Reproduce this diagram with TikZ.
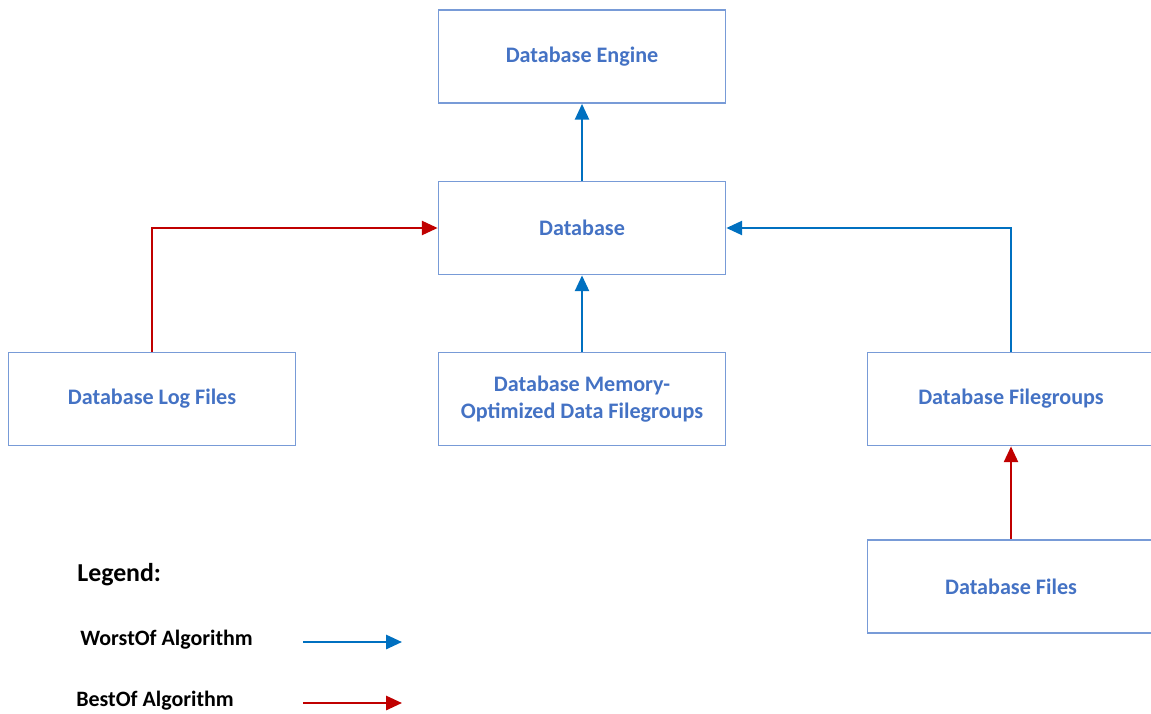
\documentclass[tikz,border=0pt]{standalone}
\usepackage{fontspec}
\setmainfont{Carlito}
\usetikzlibrary{arrows.meta, positioning}
\definecolor{boxline}{RGB}{120,155,215}
\definecolor{boxtext}{RGB}{68,114,196}
\definecolor{worstblue}{RGB}{0,112,192}
\definecolor{bestred}{RGB}{192,0,0}

\begin{document}
\begin{tikzpicture}[x=0.02cm, y=-0.02cm,
    dbbox/.style={draw=boxline, line width=1pt, minimum width=5.74cm, minimum height=1.86cm,
                  align=center, text=boxtext, font=\bfseries\fontsize{12.6}{15}\selectfont},
    worst/.style={draw=worstblue, line width=1.3pt, -{Triangle[length=9pt, width=8pt]}},
    best/.style={draw=bestred, line width=1.3pt, -{Triangle[length=9pt, width=8pt]}},
    legendtext/.style={anchor=west, inner sep=0pt, font=\bfseries\fontsize{12.5}{15}\selectfont}]
    % Page
    \useasboundingbox (0,0) rectangle (1151,713);

    % Boxes
    \node[dbbox] (engine) at (582, 56.5) {Database Engine};
    \node[dbbox] (db) at (582, 228) {Database};
    \node[dbbox] (logfiles) at (152, 399) {Database Log Files};
    \node[dbbox] (memory) at (582, 399) {Database Memory-\\Optimized Data Filegroups};
    \node[dbbox] (filegroups) at (1011, 399) {Database Filegroups};
    \node[dbbox] (files) at (1011, 586.5) {Database Files};

    % Connectors
    \draw[worst] (db) -- (engine);
    \draw[worst] (memory) -- (db);
    \draw[best] (logfiles.north) |- (db.west);
    \draw[worst] (filegroups.north) |- (db.east);
    \draw[best] (files) -- (filegroups);

    % Legend
    \node[legendtext, font=\bfseries\fontsize{14.7}{17}\selectfont] (legend) at (77, 575) {Legend:};
    \node[legendtext] (worsttext) at (80, 640) {WorstOf Algorithm};
    \node[legendtext] (besttext) at (76, 701) {BestOf Algorithm};
    \coordinate (worststart) at (303, 642);
    \coordinate (worstend) at (402, 642);
    \coordinate (beststart) at (303, 703);
    \coordinate (bestend) at (402, 703);
    \draw[worst] (worststart) -- (worstend);
    \draw[best] (beststart) -- (bestend);

  \end{tikzpicture}
\end{document}
